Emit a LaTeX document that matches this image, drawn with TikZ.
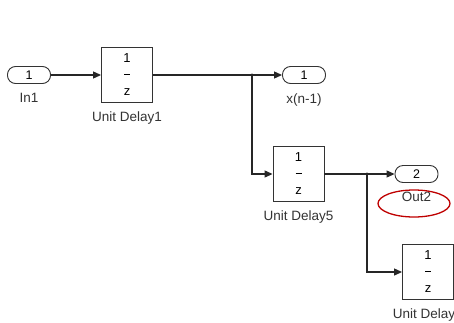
\documentclass[tikz,border=0pt]{standalone}
\usepackage{fontspec}
\setmainfont{Liberation Sans}
\usetikzlibrary{arrows.meta}
\tikzset{
  sig/.style={draw=black!85,line width=1.1pt,-{Triangle[length=8pt,width=7pt]}},
  port/.style={draw=black!80,line width=0.9pt,fill=white,rounded corners=8pt,
    minimum width=43pt,minimum height=17pt,inner sep=0pt,font=\fontsize{12.5}{14}\selectfont},
  delay/.style={draw=black!80,line width=0.9pt,fill=white,minimum width=51pt,
    minimum height=55pt,inner sep=0pt,align=center,font=\fontsize{13}{15}\selectfont},
  lbl/.style={font=\fontsize{13.5}{15}\selectfont,text=black!80}
}
\newcommand{\delayfrac}{1\\[-3pt]\rule{6pt}{0.8pt}\\[6pt]z}
\begin{document}
\begin{tikzpicture}[x=1pt,y=-1pt]
\useasboundingbox (0,0) rectangle (454,322);
\clip (0,0) rectangle (454,322);
\fill[white] (0,0) rectangle (454,322);
\node[port,label={[lbl,label distance=6pt]below:In1}] (in1) at (29,75) {1};
\node[delay,label={[lbl,label distance=5pt]below:Unit Delay1}] (ud1) at (127,75) {\delayfrac};
\node[port,label={[lbl,label distance=6pt]below:x(n-1)}] (xn1) at (304,75) {1};
\node[delay,label={[lbl,label distance=5pt]below:Unit Delay5}] (ud5) at (298.5,174) {\delayfrac};
\node[port,label={[lbl,label distance=6pt]below:Out2}] (out2) at (416.5,174) {2};
\node[delay,label={[lbl,label distance=5pt,xshift=-4pt]below:Unit Delay}] (ud6) at (428,272) {\delayfrac};
\coordinate (br1) at (252,75);
\coordinate (br2) at (367,174);
\draw[sig] (in1) -- (ud1);
\draw[sig] (ud1) -- (xn1);
\draw[sig] (br1) |- (ud5);
\draw[sig] (ud5) -- (out2);
\draw[sig] (br2) |- (ud6);
\fill[black!85] (br1) circle (1.6pt) (br2) circle (1.6pt);
\draw[red!75!black,line width=1.3pt] (414,203.5) ellipse (36 and 13.5);
\end{tikzpicture}
\end{document}
